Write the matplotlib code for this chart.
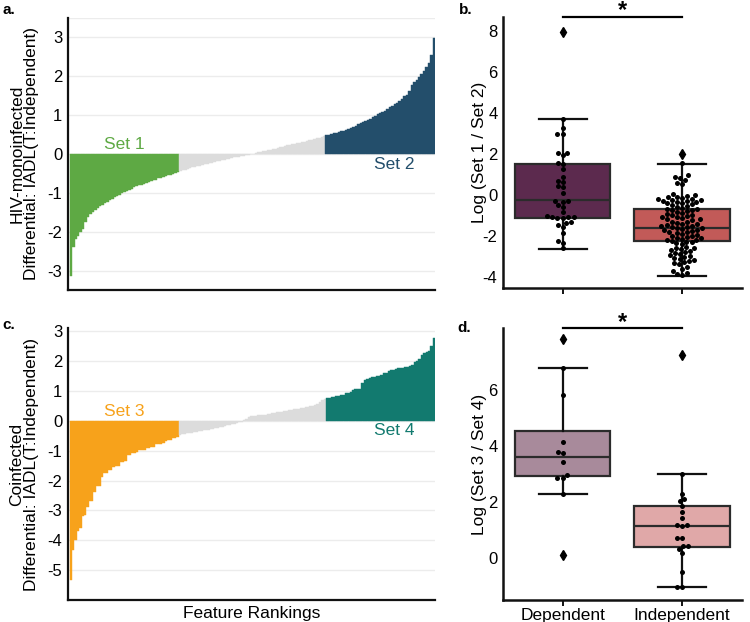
import numpy as np
import matplotlib
matplotlib.use('Agg')
import matplotlib.pyplot as plt
import seaborn as sns

plt.rcParams['font.family'] = ['Liberation Sans', 'DejaVu Sans']
plt.rcParams['axes.unicode_minus'] = False

# ---- panel a: HIV-monoinfected ranked differentials
set1 = [-3.15, -2.40, -2.20, -2.12, -2.02, -1.93, -1.75, -1.62, -1.55, -1.50,
        -1.45, -1.40, -1.35, -1.31, -1.27, -1.23, -1.19, -1.15, -1.11, -1.08,
        -1.05, -1.01, -0.98, -0.95, -0.92, -0.89, -0.86, -0.83, -0.81, -0.79,
        -0.77, -0.75, -0.73, -0.70, -0.68, -0.66, -0.63, -0.61, -0.59, -0.57,
        -0.55, -0.53, -0.51, -0.49, -0.47]
mid_a = [-0.45, -0.42, -0.40, -0.38, -0.36, -0.34, -0.33, -0.31, -0.30, -0.28,
         -0.27, -0.25, -0.24, -0.22, -0.21, -0.19, -0.18, -0.16, -0.15, -0.13,
         -0.12, -0.11, -0.09, -0.08, -0.07, -0.05, -0.04, -0.03, -0.02, -0.01,
         0.01, 0.02, 0.04, 0.05, 0.07, 0.08, 0.10, 0.11, 0.13, 0.14,
         0.16, 0.17, 0.19, 0.20, 0.22, 0.23, 0.25, 0.26, 0.28, 0.29,
         0.31, 0.32, 0.34, 0.35, 0.37, 0.38, 0.40, 0.41, 0.43, 0.45]
set2 = [0.48, 0.50, 0.51, 0.53, 0.54, 0.56, 0.58, 0.60, 0.62, 0.64,
        0.67, 0.70, 0.73, 0.76, 0.79, 0.82, 0.85, 0.88, 0.91, 0.95,
        0.99, 1.02, 1.05, 1.08, 1.11, 1.15, 1.20, 1.24, 1.28, 1.32,
        1.37, 1.42, 1.48, 1.53, 1.62, 1.78, 1.85, 1.91, 1.98, 2.06,
        2.14, 2.24, 2.34, 2.55, 2.98]

# ---- panel c: coinfected ranked differentials
set3 = [-5.32, -4.33, -4.00, -3.70, -3.60, -3.20, -3.15, -2.87, -2.70, -2.68,
        -2.37, -2.17, -2.17, -1.87, -1.76, -1.76, -1.65, -1.65, -1.55, -1.51,
        -1.51, -1.38, -1.38, -1.36, -1.16, -1.16, -1.07, -1.07, -1.05, -0.99,
        -0.99, -0.97, -0.90, -0.90, -0.89, -0.88, -0.77, -0.77, -0.76, -0.74,
        -0.66, -0.65, -0.64, -0.57, -0.56, -0.54]
mid_c = [-0.47, -0.45, -0.44, -0.42, -0.41, -0.40, -0.38, -0.37, -0.35, -0.34,
         -0.32, -0.31, -0.29, -0.28, -0.26, -0.25, -0.23, -0.21, -0.19, -0.17,
         -0.15, -0.13, -0.11, -0.09, -0.07, -0.05, -0.03, 0.02, 0.06, 0.13,
         0.15, 0.16, 0.17, 0.18, 0.19, 0.20, 0.21, 0.22, 0.24, 0.25,
         0.27, 0.28, 0.29, 0.30, 0.32, 0.33, 0.35, 0.37, 0.38, 0.39,
         0.40, 0.42, 0.44, 0.46, 0.48, 0.49, 0.50, 0.52, 0.55, 0.62,
         0.69, 0.74]
set4 = [0.76, 0.78, 0.79, 0.80, 0.82, 0.83, 0.87, 0.88, 0.92, 0.93,
        0.96, 1.03, 1.05, 1.06, 1.06, 1.26, 1.38, 1.40, 1.43, 1.47,
        1.48, 1.49, 1.50, 1.52, 1.59, 1.60, 1.67, 1.70, 1.71, 1.72,
        1.76, 1.77, 1.78, 1.79, 1.80, 1.84, 1.86, 1.97, 2.00, 2.06,
        2.20, 2.28, 2.31, 2.33, 2.52, 2.78]

# ---- panel b: log(Set 1 / Set 2)
groups = ['Dependent', 'Independent']
b_dep = [3.7, 3.25, 3.0, 3.0, 2.05, 2.05, 1.95, 1.55, 1.5, 1.25, 0.9, 0.7, 0.65,
         0.45, 0.4, 0.1, -0.3, -0.3, -0.35, -0.5, -0.6, -0.85, -1.05, -1.1, -1.1,
         -1.1, -1.15, -1.15, -1.3, -1.35, -1.45, -1.55, -1.85, -2.25, -2.35, -2.6]
b_ind = [1.55, 0.95, 0.9, 0.85, 0.75, 0.6, 0.55,
         0.05, 0.0, -0.05, -0.1, -0.1, -0.15, -0.2, -0.2, -0.25, -0.25, -0.3,
         -0.3, -0.35, -0.35, -0.4, -0.4, -0.45, -0.5,
         -0.55, -0.6, -0.65, -0.7, -0.7, -0.75, -0.75, -0.8, -0.85, -0.9, -0.95,
         -1.0, -1.0, -1.05, -1.1, -1.1, -1.15, -1.2, -1.2, -1.25, -1.3, -1.3,
         -1.35, -1.4, -1.4, -1.45, -1.5, -1.5, -1.55, -1.55, -1.6, -1.6, -1.65,
         -1.7, -1.7, -1.75, -1.8, -1.8, -1.85, -1.9, -1.95, -2.0, -2.0, -2.05,
         -2.1, -2.1, -2.15, -2.2, -2.2, -2.25, -2.3, -2.3, -2.35, -2.4,
         -2.55, -2.6, -2.6, -2.65, -2.7, -2.75, -2.8, -2.85, -2.9, -2.95, -3.0,
         -3.05, -3.1, -3.15, -3.2, -3.25, -3.3, -3.35, -3.4, -3.5, -3.6, -3.7,
         -3.8, -3.85, -3.9]
b_q1 = [-1.13, -2.27]
b_med = [-0.24, -1.62]
b_q3 = [1.49, -0.70]
b_lo = [-2.64, -3.94]
b_hi = [3.70, 1.51]
b_out = [[7.95], [1.99]]

# ---- panel d: log(Set 3 / Set 4)
d_dep = [6.79, 5.82, 4.13, 3.80, 3.74, 3.44, 2.97, 2.87, 2.87, 2.28]
d_ind = [2.99, 2.29, 2.11, 2.02, 1.86, 1.64, 1.43, 1.19, 1.19, 1.13, 0.71, 0.71,
         0.42, 0.42, 0.32, 0.18, -0.51, -1.03, -1.03]
d_q1 = [2.93, 0.38]
d_med = [3.59, 1.13]
d_q3 = [4.54, 1.86]
d_lo = [2.28, -1.05]
d_hi = [6.79, 2.99]
d_out = [[7.80, 0.12], [7.24]]


def ranked(ax, lo, mid, hi, c_lo, c_hi, names, ylim, yticks):
    vals = lo + mid + hi
    cols = [c_lo] * len(lo) + ['#dcdcdc'] * len(mid) + [c_hi] * len(hi)
    x = np.arange(len(vals))
    ax.bar(x, vals, width=1.0, color=cols, edgecolor=cols, linewidth=0.3)
    ax.set_xlim(-1.2, len(vals) - 0.5)
    ax.set_ylim(*ylim)
    ax.set_yticks(yticks)
    ax.set_xticks([])
    ax.grid(axis='y', color='#ececec', linewidth=1)
    ax.set_axisbelow(True)
    for s in ['top', 'right']:
        ax.spines[s].set_visible(False)
    for s in ['left', 'bottom']:
        ax.spines[s].set_linewidth(1.6)
        ax.spines[s].set_color('#111111')
    ax.tick_params(axis='y', length=0, pad=4, labelsize=12)
    ax.text((len(lo) - 1) / 2, 0.05, names[0], color=c_lo, fontsize=12.5,
            ha='center', va='bottom')
    ax.text(len(lo) + len(mid) + len(hi) * 0.62, -0.08, names[1], color=c_hi,
            fontsize=12.5, ha='center', va='top')


def boxes(ax, dep, ind, q1, med, q3, lo, hi, out, colors, ylim, yticks, ylabel):
    stats = []
    for i in range(2):
        stats.append({'q1': q1[i], 'med': med[i], 'q3': q3[i],
                      'whislo': lo[i], 'whishi': hi[i], 'fliers': out[i]})
    bp = ax.bxp(stats, positions=[0, 1], widths=0.8, patch_artist=True,
                boxprops=dict(edgecolor='#2b2b2b', linewidth=1.6),
                medianprops=dict(color='#2b2b2b', linewidth=1.6),
                whiskerprops=dict(color='#111111', linewidth=1.6),
                capprops=dict(color='#111111', linewidth=1.6),
                flierprops=dict(marker='d', markerfacecolor='black',
                                markeredgecolor='black', markersize=5))
    for patch, c in zip(bp['boxes'], colors):
        patch.set_facecolor(c)
    cats = [groups[0]] * len(dep) + [groups[1]] * len(ind)
    sns.swarmplot(x=cats, y=dep + ind, order=groups, color='black', size=3.6,
                  ax=ax, zorder=3)
    ax.set_xlim(-0.5, 1.5)
    ax.set_ylim(*ylim)
    ax.set_yticks(yticks)
    ax.set_xticks([0, 1])
    for s in ['top', 'right']:
        ax.spines[s].set_visible(False)
    for s in ['left', 'bottom']:
        ax.spines[s].set_linewidth(1.8)
        ax.spines[s].set_color('#111111')
    ax.tick_params(axis='y', length=0, pad=4, labelsize=12)
    ax.tick_params(axis='x', length=4, width=1.3, pad=2, labelsize=12.5)
    ax.set_ylabel(ylabel, fontsize=12.5)
    ax.yaxis.set_label_coords(-0.067, 0.5)
    ax.set_xlabel('')
    top = ylim[1]
    ax.plot([0, 1], [top, top], color='black', linewidth=1.6, clip_on=False)
    ax.annotate('*', xy=(0.5, top), xytext=(0, 4.5), textcoords='offset points',
                ha='center', va='center', fontsize=17, fontweight='bold',
                annotation_clip=False)


fig = plt.figure(figsize=(7.5, 6.22), dpi=100)
ax_a = fig.add_axes([0.0907, 0.5338, 0.4893, 0.4373])
ax_b = fig.add_axes([0.6707, 0.5370, 0.3182, 0.4357])
ax_c = fig.add_axes([0.0907, 0.0354, 0.4893, 0.4368])
ax_d = fig.add_axes([0.6707, 0.0354, 0.3182, 0.4368])

ranked(ax_a, set1, mid_a, set2, '#5ea944', '#234e6b', ['Set 1', 'Set 2'],
       (-3.5, 3.5), [-3, -2, -1, 0, 1, 2, 3])
ax_a.axhline(3.5, color='#ececec', linewidth=1, zorder=0)
ax_a.set_ylabel('HIV-monoinfected\nDifferential: IADL(T:Independent)',
                fontsize=12.5, linespacing=0.95)
ax_a.yaxis.set_label_coords(-0.08, 0.5)

ranked(ax_c, set3, mid_c, set4, '#f7a21b', '#127a6f', ['Set 3', 'Set 4'],
       (-6.0, 3.1), [-5, -4, -3, -2, -1, 0, 1, 2, 3])
ax_c.set_ylabel('Coinfected\nDifferential: IADL(T:Independent)', fontsize=12.5,
                linespacing=0.95)
ax_c.yaxis.set_label_coords(-0.08, 0.5)
ax_c.set_xlabel('Feature Rankings', fontsize=12.5, labelpad=4)

boxes(ax_b, b_dep, b_ind, b_q1, b_med, b_q3, b_lo, b_hi, b_out,
      ['#5c2a4e', '#c25a58'], (-4.55, 8.7), [-4, -2, 0, 2, 4, 6, 8],
      'Log (Set 1 / Set 2)')
ax_b.set_xticklabels(['', ''])

boxes(ax_d, d_dep, d_ind, d_q1, d_med, d_q3, d_lo, d_hi, d_out,
      ['#a88a9b', '#e0a8a8'], (-1.5, 8.2), [0, 2, 4, 6],
      'Log (Set 3 / Set 4)')
ax_d.set_xticklabels(groups)

fig.text(0.003, 0.984, 'a.', fontsize=11, fontweight='bold', va='center')
fig.text(0.612, 0.984, 'b.', fontsize=11, fontweight='bold', va='center')
fig.text(0.003, 0.477, 'c.', fontsize=11, fontweight='bold', va='center')
fig.text(0.610, 0.473, 'd.', fontsize=11, fontweight='bold', va='center')

fig.savefig('out.png', dpi=100)
